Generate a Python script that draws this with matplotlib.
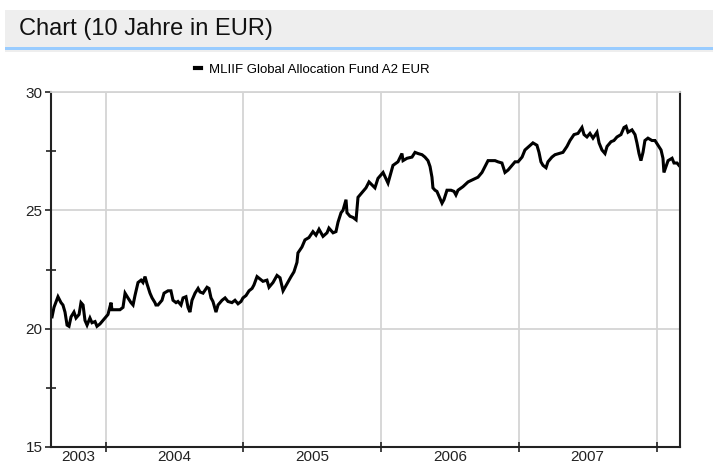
import matplotlib
matplotlib.use("Agg")
import matplotlib.pyplot as plt
from matplotlib.patches import Rectangle
from matplotlib.lines import Line2D

plt.rcParams['font.family'] = ['Liberation Sans', 'DejaVu Sans']

title = "Chart (10 Jahre in EUR)"
series_name = "MLIIF Global Allocation Fund A2 EUR"

# time as decimal years
t = [2003.612, 2003.626, 2003.655, 2003.677, 2003.691, 2003.706, 2003.721, 2003.735,
     2003.750, 2003.771, 2003.786, 2003.808, 2003.822, 2003.837, 2003.851, 2003.866,
     2003.887, 2003.902, 2003.924, 2003.938, 2003.960, 2003.982, 2003.996, 2004.018,
     2004.040, 2004.047, 2004.069, 2004.105, 2004.127, 2004.142, 2004.163, 2004.185,
     2004.200, 2004.214, 2004.236, 2004.258, 2004.272, 2004.287, 2004.301, 2004.323,
     2004.338, 2004.359, 2004.366, 2004.381, 2004.410, 2004.425, 2004.454, 2004.475,
     2004.490, 2004.512, 2004.526, 2004.548, 2004.563, 2004.584, 2004.599, 2004.613,
     2004.628, 2004.650, 2004.672, 2004.686, 2004.708, 2004.737, 2004.751, 2004.766,
     2004.780, 2004.802, 2004.817, 2004.846, 2004.868, 2004.889, 2004.918, 2004.940,
     2004.962, 2004.984, 2004.998, 2005.020, 2005.042, 2005.064, 2005.078, 2005.100,
     2005.122, 2005.143, 2005.172, 2005.187, 2005.216, 2005.245, 2005.267, 2005.289,
     2005.318, 2005.347, 2005.368, 2005.390, 2005.397, 2005.426, 2005.448, 2005.477,
     2005.506, 2005.528, 2005.550, 2005.579, 2005.608, 2005.622, 2005.652, 2005.673,
     2005.688, 2005.710, 2005.724, 2005.746, 2005.753, 2005.775, 2005.797, 2005.819,
     2005.833, 2005.862, 2005.891, 2005.913, 2005.956, 2005.978, 2006.015, 2006.051,
     2006.073, 2006.087, 2006.123, 2006.152, 2006.160, 2006.189, 2006.225, 2006.247,
     2006.269, 2006.298, 2006.319, 2006.341, 2006.356, 2006.370, 2006.377, 2006.392,
     2006.406, 2006.428, 2006.443, 2006.457, 2006.479, 2006.508, 2006.530, 2006.544,
     2006.559, 2006.595, 2006.632, 2006.668, 2006.704, 2006.733, 2006.755, 2006.777,
     2006.806, 2006.828, 2006.849, 2006.878, 2006.900, 2006.922, 2006.951, 2006.973,
     2006.995, 2007.024, 2007.045, 2007.074, 2007.103, 2007.132, 2007.147, 2007.161,
     2007.176, 2007.198, 2007.212, 2007.241, 2007.263, 2007.292, 2007.321, 2007.350,
     2007.372, 2007.401, 2007.430, 2007.459, 2007.474, 2007.495, 2007.517, 2007.539,
     2007.568, 2007.583, 2007.604, 2007.626, 2007.641, 2007.670, 2007.691, 2007.713,
     2007.742, 2007.764, 2007.779, 2007.793, 2007.822, 2007.844, 2007.858, 2007.873,
     2007.887, 2007.902, 2007.916, 2007.938, 2007.967, 2007.989, 2008.011, 2008.033,
     2008.047, 2008.054, 2008.069, 2008.084, 2008.113, 2008.127, 2008.149, 2008.163]

price = [20.5, 20.9, 21.35, 21.1, 21.0, 20.7, 20.15, 20.1,
         20.5, 20.7, 20.45, 20.6, 21.1, 21.0, 20.35, 20.15,
         20.45, 20.25, 20.3, 20.1, 20.2, 20.35, 20.45, 20.6,
         21.1, 20.8, 20.8, 20.8, 20.9, 21.5, 21.3, 21.1,
         21.0, 21.4, 21.95, 22.05, 21.95, 22.2, 21.9, 21.5,
         21.3, 21.1, 21.0, 21.0, 21.2, 21.5, 21.6, 21.6,
         21.2, 21.1, 21.15, 21.0, 21.3, 21.35, 20.9, 20.7,
         21.2, 21.5, 21.7, 21.55, 21.5, 21.75, 21.7, 21.3,
         21.15, 20.7, 21.0, 21.2, 21.3, 21.15, 21.1, 21.2,
         21.05, 21.15, 21.3, 21.4, 21.6, 21.7, 21.85, 22.2,
         22.1, 22.0, 22.05, 21.75, 21.95, 22.25, 22.15, 21.6,
         21.9, 22.2, 22.4, 22.8, 23.2, 23.45, 23.75, 23.85,
         24.1, 23.95, 24.2, 23.9, 24.05, 24.25, 24.05, 24.1,
         24.5, 24.9, 25.0, 25.45, 24.9, 24.75, 24.7, 24.6,
         25.55, 25.75, 25.95, 26.2, 25.95, 26.35, 26.6, 26.15,
         26.6, 26.9, 27.05, 27.4, 27.1, 27.2, 27.25, 27.45,
         27.4, 27.35, 27.25, 27.1, 26.85, 26.4, 25.95, 25.85,
         25.8, 25.5, 25.3, 25.45, 25.85, 25.85, 25.8, 25.65,
         25.85, 26.0, 26.2, 26.3, 26.4, 26.6, 26.85, 27.1,
         27.1, 27.1, 27.05, 27.0, 26.6, 26.7, 26.9, 27.05,
         27.05, 27.25, 27.55, 27.7, 27.85, 27.75, 27.45, 27.05,
         26.9, 26.8, 27.05, 27.25, 27.35, 27.4, 27.45, 27.7,
         27.95, 28.2, 28.25, 28.5, 28.2, 28.1, 28.25, 28.05,
         28.3, 27.85, 27.55, 27.4, 27.7, 27.9, 27.95, 28.1,
         28.2, 28.5, 28.55, 28.3, 28.4, 28.2, 27.85, 27.4,
         27.1, 27.45, 27.95, 28.05, 27.95, 27.95, 27.75, 27.55,
         27.2, 26.6, 26.85, 27.1, 27.2, 27.0, 27.0, 26.9]

year_bounds = [2004, 2005, 2006, 2007, 2008]
year_labels = ["2003", "2004", "2005", "2006", "2007"]
y_major = [15, 20, 25, 30]
y_minor = [17.5, 22.5, 27.5]

W, H = 713, 466
fig = plt.figure(figsize=(W / 100, H / 100), dpi=100)

# header band
fig.patches.append(Rectangle((5 / W, 1 - 47 / H), 708 / W, 37 / H,
                             transform=fig.transFigure, facecolor='#eeeeee',
                             edgecolor='none', zorder=0))
fig.patches.append(Rectangle((5 / W, 1 - 49.5 / H), 708 / W, 2.5 / H,
                             transform=fig.transFigure, facecolor='#99ccff',
                             edgecolor='none', zorder=1))
fig.patches.append(Rectangle((5 / W, 1 - 51.5 / H), 708 / W, 2 / H,
                             transform=fig.transFigure, facecolor='#eeeeee',
                             edgecolor='none', zorder=1))
fig.text(19 / W, 1 - 29.5 / H, title, fontsize=17, va='center', ha='left', color='#111111')

x0, x1 = 51, 680
y0, y1 = 92, 447
ax = fig.add_axes([x0 / W, 1 - y1 / H, (x1 - x0) / W, (y1 - y0) / H])

ax.plot(t, price, color='black', lw=2.2, solid_joinstyle='miter', label=series_name)

xmin = 2004 - (105.5 - x0) / 137.75
xmax = 2008 + (x1 - 656.5) / 137.75
ax.set_xlim(xmin, xmax)
ax.set_ylim(15, 30)

# grid
for yb in year_bounds:
    ax.axvline(yb, color='#d4d4d4', lw=1.3, zorder=0)
for yv in [20, 25, 30]:
    ax.axhline(yv, color='#d4d4d4', lw=1.3, zorder=0)

# ticks
ax.set_yticks(y_major)
ax.set_yticks(y_minor, minor=True)
ax.tick_params(axis='y', which='major', direction='out', length=4, width=1.2,
               labelsize=11, pad=2, colors='#222222')
ax.tick_params(axis='y', which='minor', direction='inout', length=7, width=1.2,
               colors='#222222')
ax.set_xticks(year_bounds)
ax.set_xticklabels([])
ax.tick_params(axis='x', which='major', direction='inout', length=7, width=1.2,
               colors='#222222')
mids = [(xmin + 2004) / 2] + [y + 0.5 for y in year_bounds[:-1]]
ax.set_xticks(mids, minor=True)
ax.set_xticklabels(year_labels, minor=True)
ax.tick_params(axis='x', which='minor', length=0, labelsize=11, pad=2, colors='#222222')

for s in ['left', 'bottom', 'right']:
    ax.spines[s].set_color('#222222')
    ax.spines[s].set_linewidth(1.5)
ax.spines['top'].set_color('#d4d4d4')
ax.spines['top'].set_linewidth(1.3)

ax.legend(handles=[Line2D([0], [0], color='black', lw=3)], labels=[series_name],
          loc='center', bbox_to_anchor=(312 / W, 1 - 70 / H), frameon=False,
          bbox_transform=fig.transFigure,
          handlelength=0.45, handletextpad=0.6, fontsize=9.5, borderpad=0.0)

fig.savefig("out.png", dpi=100)
